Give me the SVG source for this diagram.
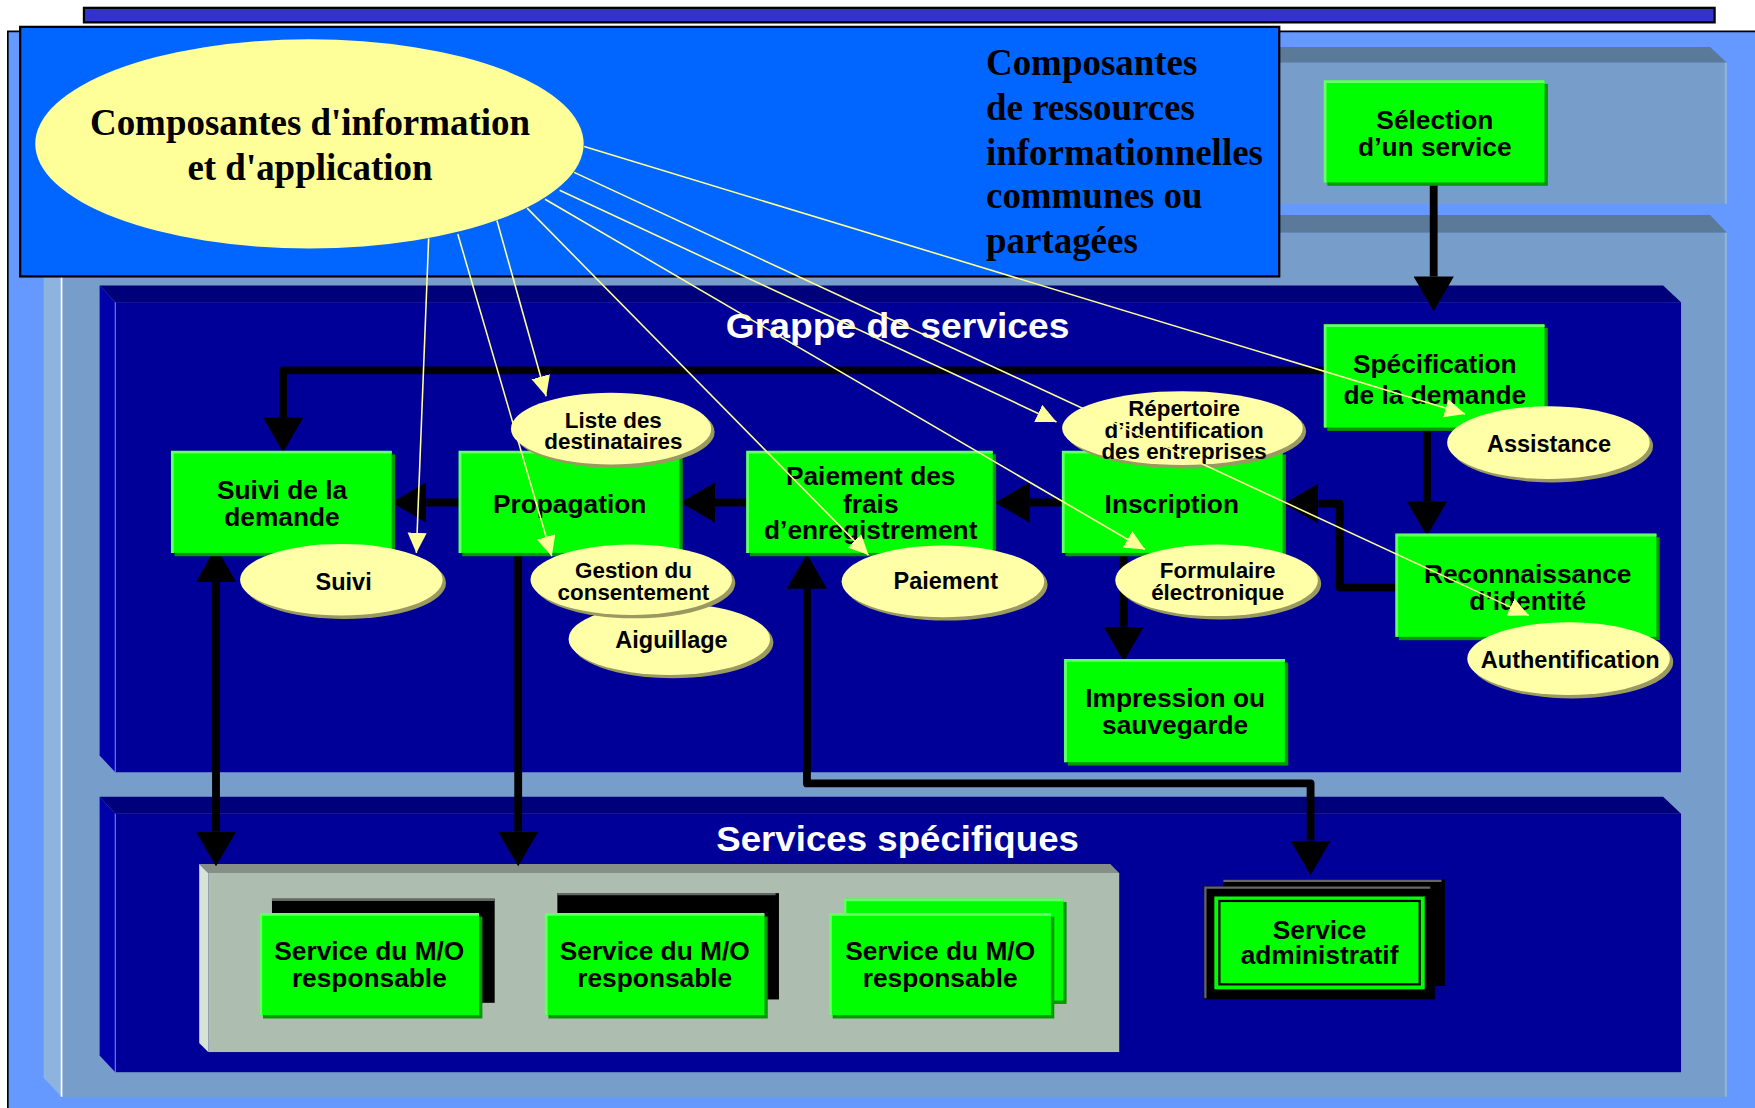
<svg xmlns="http://www.w3.org/2000/svg" width="1755" height="1108" viewBox="0 0 1755 1108">
<style>
.bx{font-family:"Liberation Sans",Arial,sans-serif;font-weight:bold;font-size:23.5px;text-anchor:middle;fill:#000}
.el{font-family:"Liberation Sans",Arial,sans-serif;font-weight:bold;font-size:21px;text-anchor:middle;fill:#000}
.el2{font-family:"Liberation Sans",Arial,sans-serif;font-weight:bold;font-size:20px;text-anchor:middle;fill:#000}
.sf{font-family:"Liberation Serif","Times New Roman",serif;font-weight:bold;fill:#000}
.ttl{font-family:"Liberation Sans",Arial,sans-serif;font-weight:bold;font-size:32px;text-anchor:middle;fill:#fff}
.gf{fill:#00ff00}
.gl{stroke:#66ff66;stroke-width:2.5;fill:none}
.gs{fill:#009900}
.ys{fill:#9a9a60}
.yf{fill:#ffffa8}
.blk{stroke:#000;stroke-width:7;fill:none;stroke-linejoin:round}
.yl{stroke:#ffff99;stroke-width:1.4;fill:none}
</style>
<defs>
<marker id="bh" markerUnits="userSpaceOnUse" markerWidth="32" markerHeight="36" viewBox="0 0 32 36" refX="0" refY="18" orient="auto-start-reverse"><path d="M0,0 L31,18 L0,36 z" fill="#000"/></marker>
<marker id="yh" markerUnits="userSpaceOnUse" markerWidth="20" markerHeight="18" viewBox="0 0 20 18" refX="18" refY="8.5" orient="auto"><path d="M0,0 L18,8.5 L0,17 z" fill="#ffff99"/></marker>
</defs>
<rect width="1755" height="1108" fill="#fff"/>
<g transform="scale(1.1192)">
<g id="background">
<rect x="75" y="7" width="1457" height="13" fill="#3333cc" stroke="#000" stroke-width="2"/>
<rect x="7" y="28" width="1565" height="965" fill="#6699ff"/>
<path d="M7,992 V28 H1570" stroke="#000" stroke-width="1.5" fill="none"/>
<polygon points="39,42 1528,42 1543,56 55,56" fill="#5b7a99"/>
<rect x="55" y="56" width="1488" height="126" fill="#779ecb"/>
<line x1="1542" y1="56" x2="1542" y2="182" stroke="#8cb4de" stroke-width="2"/>
<polygon points="39,192 1528,192 1543,208 55,208" fill="#5b7a99"/>
<polygon points="39,192 55,208 55,980 39,963" fill="#8cb4de"/>
<rect x="55" y="208" width="1488" height="772" fill="#779ecb"/>
<line x1="55" y1="208" x2="55" y2="980" stroke="#fff" stroke-width="1.5"/>
<line x1="1542" y1="208" x2="1542" y2="980" stroke="#8cb4de" stroke-width="2"/>
</g>
<g id="grappe-panel">
<polygon points="89,255 1486,255 1502,270 103,270" fill="#00007a"/>
<polygon points="89,255 103,270 103,690 89,675" fill="#0000aa"/>
<rect x="103" y="270" width="1399" height="420" fill="#000099"/>
<line x1="103" y1="270" x2="103" y2="690" stroke="#7777ff" stroke-width="1"/>
<text class="ttl" x="802" y="302" textLength="307" lengthAdjust="spacingAndGlyphs">Grappe de services</text>
</g>
<g id="services-panel">
<polygon points="89,712 1486,712 1502,727 103,727" fill="#00007a"/>
<polygon points="89,712 103,727 103,958 89,943" fill="#0000aa"/>
<rect x="103" y="727" width="1399" height="231" fill="#000099"/>
<line x1="103" y1="727" x2="103" y2="958" stroke="#7777ff" stroke-width="1"/>
<text class="ttl" x="802" y="760" textLength="324" lengthAdjust="spacingAndGlyphs">Services spécifiques</text>
</g>
<g id="header">
<rect x="18" y="24" width="1125" height="223" fill="#0066ff" stroke="#000" stroke-width="2"/>
<text class="sf" font-size="33" x="881" y="67">Composantes</text>
<text class="sf" font-size="33" x="881" y="107">de ressources</text>
<text class="sf" font-size="33" x="881" y="147">informationnelles</text>
<text class="sf" font-size="33" x="881" y="186">communes ou</text>
<text class="sf" font-size="33" x="881" y="226">partagées</text>
</g>
<g id="composantes-info">
<ellipse cx="276.5" cy="128.5" rx="245" ry="93.5" fill="#ffff99"/>
<text class="sf" font-size="33" text-anchor="middle" x="277" y="121">Composantes d'information</text>
<text class="sf" font-size="33" text-anchor="middle" x="277" y="161">et d'application</text>
</g>
<g id="gray-box">
<polygon points="178,772 992,772 1000,780 186,780" fill="#868e88"/>
<polygon points="178,772 186,780 186,940 178,932" fill="#d6e4d6"/>
<rect x="186" y="780" width="814" height="160" fill="#adbdaf"/>
</g>
<g id="connectors">
<path class="blk" d="M1281,165 V247" marker-end="url(#bh)"/>
<path class="blk" d="M1275,382 V448" marker-end="url(#bh)"/>
<path class="blk" d="M1247,525 H1197 V450 H1178" marker-end="url(#bh)"/>
<path class="blk" d="M949,449 H920" marker-end="url(#bh)"/>
<path class="blk" d="M667,449 H639" marker-end="url(#bh)"/>
<path class="blk" d="M410,449 H381" marker-end="url(#bh)"/>
<path class="blk" d="M1183,331 H253 V373" marker-end="url(#bh)"/>
<path class="blk" d="M1004,494 V560" marker-end="url(#bh)"/>
<path class="blk" d="M193,520 V743" marker-start="url(#bh)" marker-end="url(#bh)"/>
<path class="blk" d="M463,494 V743" marker-end="url(#bh)"/>
<path class="blk" d="M721,526 V700 H1171 V751" marker-start="url(#bh)" marker-end="url(#bh)"/>
</g>
<g id="selection">
<rect class="gs" x="1186" y="75" width="197" height="91"/><rect class="gf" x="1183" y="72" width="197" height="91"/><path class="gl" d="M1184,163 V73 H1380"/>
<text class="bx" x="1282" y="115">Sélection</text><text class="bx" x="1282" y="139">d’un service</text>
</g>
<g id="specification">
<rect class="gs" x="1186" y="293" width="197" height="92"/><rect class="gf" x="1183" y="290" width="197" height="92"/><path class="gl" d="M1184,382 V291 H1380"/>
<text class="bx" x="1282" y="333">Spécification</text><text class="bx" x="1282" y="361">de la demande</text>
</g>
<g id="reconnaissance">
<rect class="gs" x="1250" y="480" width="233" height="92"/><rect class="gf" x="1247" y="477" width="233" height="92"/><path class="gl" d="M1248,569 V478 H1480"/>
<text class="bx" x="1365" y="521">Reconnaissance</text><text class="bx" x="1365" y="545">d’identité</text>
</g>
<g id="suivi-demande">
<rect class="gs" x="156" y="406" width="197" height="91"/><rect class="gf" x="153" y="403" width="197" height="91"/><path class="gl" d="M154,494 V404 H350"/>
<text class="bx" x="252" y="446">Suivi de la</text><text class="bx" x="252" y="470">demande</text>
</g>
<g id="propagation">
<rect class="gs" x="413" y="406" width="197" height="91"/><rect class="gf" x="410" y="403" width="197" height="91"/><path class="gl" d="M411,494 V404 H607"/>
<text class="bx" x="509" y="458">Propagation</text>
</g>
<g id="paiement-frais">
<rect class="gs" x="670" y="406" width="220" height="91"/><rect class="gf" x="667" y="403" width="220" height="91"/><path class="gl" d="M668,494 V404 H887"/>
<text class="bx" x="778" y="433">Paiement des</text><text class="bx" x="778" y="458">frais</text><text class="bx" x="778" y="482">d’enregistrement</text>
</g>
<g id="inscription">
<rect class="gs" x="952" y="406" width="197" height="91"/><rect class="gf" x="949" y="403" width="197" height="91"/><path class="gl" d="M950,494 V404 H1146"/>
<text class="bx" x="1047" y="458">Inscription</text>
</g>
<g id="impression">
<rect class="gs" x="954" y="592" width="197" height="92"/><rect class="gf" x="951" y="589" width="197" height="92"/><path class="gl" d="M952,681 V590 H1148"/>
<text class="bx" x="1050" y="632">Impression ou</text><text class="bx" x="1050" y="656">sauvegarde</text>
</g>
<g id="aiguillage">
<ellipse class="ys" cx="601" cy="574" rx="90" ry="32"/><ellipse class="yf" cx="598" cy="571" rx="90" ry="32"/>
<text class="el" x="600" y="579">Aiguillage</text>
</g>
<g id="gestion-consentement">
<ellipse class="ys" cx="567" cy="521" rx="90" ry="31.5"/><ellipse class="yf" cx="564" cy="518" rx="90" ry="31.5"/>
<text class="el2" x="566" y="516">Gestion du</text><text class="el2" x="566" y="536">consentement</text>
</g>
<g id="liste-destinataires">
<ellipse class="ys" cx="549" cy="386" rx="89.5" ry="32"/><ellipse class="yf" cx="546" cy="383" rx="89.5" ry="32"/>
<text class="el2" x="548" y="382">Liste des</text><text class="el2" x="548" y="401">destinataires</text>
</g>
<g id="suivi">
<ellipse class="ys" cx="308" cy="521" rx="90.5" ry="32"/><ellipse class="yf" cx="305" cy="518" rx="90.5" ry="32"/>
<text class="el" x="307" y="527">Suivi</text>
</g>
<g id="paiement">
<ellipse class="ys" cx="845.5" cy="522.5" rx="90.5" ry="32"/><ellipse class="yf" cx="842.5" cy="519.5" rx="90.5" ry="32"/>
<text class="el" x="845" y="526">Paiement</text>
</g>
<g id="repertoire">
<ellipse class="ys" cx="1059.5" cy="385.5" rx="107.5" ry="33"/><ellipse class="yf" cx="1056.5" cy="382.5" rx="107.5" ry="33"/>
<text class="el2" x="1058" y="372">Répertoire</text><text class="el2" x="1058" y="391">d’identification</text><text class="el2" x="1058" y="410">des entreprises</text>
</g>
<g id="formulaire">
<ellipse class="ys" cx="1090" cy="521.5" rx="90.5" ry="32"/><ellipse class="yf" cx="1087" cy="518.5" rx="90.5" ry="32"/>
<text class="el2" x="1088" y="516">Formulaire</text><text class="el2" x="1088" y="536">électronique</text>
</g>
<g id="assistance">
<ellipse class="ys" cx="1386.5" cy="398.5" rx="90.5" ry="32.5"/><ellipse class="yf" cx="1383.5" cy="395.5" rx="90.5" ry="32.5"/>
<text class="el" x="1384" y="404">Assistance</text>
</g>
<g id="authentification">
<ellipse class="ys" cx="1404.5" cy="591.5" rx="90.5" ry="32.5"/><ellipse class="yf" cx="1401.5" cy="588.5" rx="90.5" ry="32.5"/>
<text class="el" x="1403" y="597">Authentification</text>
</g>
<g id="mo-1">
<rect x="243" y="803" width="199" height="93" fill="#000"/><line x1="243" y1="804" x2="442" y2="804" stroke="#666" stroke-width="2"/>
<rect class="gs" x="235" y="819" width="196" height="91"/><rect class="gf" x="232" y="816" width="196" height="91"/><path class="gl" d="M233,907 V817 H428"/>
<text class="bx" x="330" y="858">Service du M/O</text><text class="bx" x="330" y="882">responsable</text>
</g>
<g id="mo-2">
<rect x="498" y="798" width="198" height="95" fill="#000"/><line x1="498" y1="799" x2="693" y2="799" stroke="#666" stroke-width="2"/>
<rect class="gs" x="490" y="819" width="196" height="91"/><rect class="gf" x="487" y="816" width="196" height="91"/><path class="gl" d="M488,907 V817 H683"/>
<text class="bx" x="585" y="858">Service du M/O</text><text class="bx" x="585" y="882">responsable</text>
</g>
<g id="mo-3">
<rect class="gs" x="757" y="806" width="196" height="91"/><rect class="gf" x="754" y="803" width="196" height="91"/><path class="gl" d="M755,894 V804 H950"/>
<rect class="gs" x="744" y="819" width="198" height="91"/><rect class="gf" x="741" y="816" width="198" height="91"/><path class="gl" d="M742,907 V817 H939"/>
<text class="bx" x="840" y="858">Service du M/O</text><text class="bx" x="840" y="882">responsable</text>
</g>
<g id="service-administratif">
<rect x="1093" y="786" width="198" height="95" fill="#000"/><line x1="1093" y1="787" x2="1288" y2="787" stroke="#666" stroke-width="2"/>
<rect x="1076" y="792" width="206" height="101" fill="#000"/><path d="M1077,892 V793 H1278" stroke="#666" stroke-width="2" fill="none"/>
<rect class="gf" x="1085" y="801" width="188" height="83"/>
<rect x="1089.5" y="805" width="179" height="74.5" fill="none" stroke="#000" stroke-width="2"/>
<text class="bx" x="1179" y="839">Service</text><text class="bx" x="1179" y="861">administratif</text>
</g>
<g id="info-links">
<path class="yl" d="M522,131 L1309,370" marker-end="url(#yh)"/>
<path class="yl" d="M513,154 L1366,550" marker-end="url(#yh)"/>
<path class="yl" d="M500,170 L944,377" marker-end="url(#yh)"/>
<path class="yl" d="M487,178 L1023,491" marker-end="url(#yh)"/>
<path class="yl" d="M471,186 L776,496" marker-end="url(#yh)"/>
<path class="yl" d="M444,197 L488,354" marker-end="url(#yh)"/>
<path class="yl" d="M409,209 L493,497" marker-end="url(#yh)"/>
<path class="yl" d="M383,213 L372,494" marker-end="url(#yh)"/>
</g>
</g>
</svg>
